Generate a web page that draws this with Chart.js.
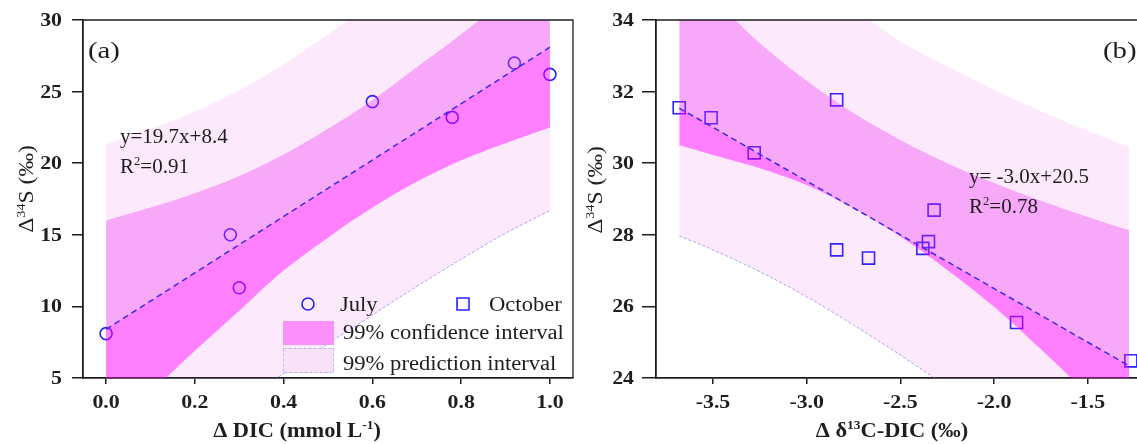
<!DOCTYPE html>
<html>
<head>
<meta charset="utf-8">
<title>Δ34S regressions</title>
<script src="https://cdn.jsdelivr.net/npm/chart.js@4.4.1/dist/chart.umd.min.js"></script>
<style>
  html, body { margin: 0; padding: 0; background: #fff; }
  body { width: 1137px; height: 444px; overflow: hidden; position: relative; }
  canvas { position: absolute; top: 0; }
  #chartA { left: 0; }
  #chartB { left: 580px; }
</style>
</head>
<body>
<canvas id="chartA" width="580" height="444"></canvas>
<canvas id="chartB" width="570" height="444"></canvas>
<script>
// (a) July samples: ΔDIC against Δ34S
var julyDIC = [0.00, 0.28, 0.30, 0.60, 0.78, 0.92, 1.00];
var julyS34 = [8.1, 15.0, 11.3, 24.3, 23.2, 27.0, 26.2];
var fitSlopeA = 19.7, fitInterceptA = 8.4, fitR2A = 0.91;
var fitRangeA = [0.0, 1.0];

// (a) 99% confidence / prediction bands
var bandDIC    = [0.0, 0.1, 0.2, 0.3, 0.4, 0.5, 0.6, 0.7, 0.8, 0.9, 1.0];
var predUpperA = [21.3, 22.4, 23.6, 25.1, 26.9, 29.0, 31.2, 33.3, 35.3, 37.3, 39.3];
var confUpperA = [16.0, 16.9, 17.9, 19.1, 20.6, 22.4, 24.4, 26.7, 29.0, 31.5, 34.2];
var confLowerA = [1.2, 4.0, 6.9, 9.7, 12.5, 14.8, 16.9, 18.7, 20.2, 21.4, 22.5];
var predLowerA = [-2.0, -0.2, 1.5, 3.4, 5.3, 7.4, 9.4, 11.4, 13.3, 15.1, 16.7];

// (b) October samples: Δδ13C-DIC against Δ34S
var octD13C = [-3.68, -3.51, -3.28, -2.84, -2.84, -2.67, -2.38, -2.35, -2.32, -1.88, -1.27];
var octS34  = [31.55, 31.27, 30.29, 31.77, 27.58, 27.35, 27.62, 27.81, 28.69, 25.55, 24.48];
var fitSlopeB = -3.0, fitInterceptB = 20.5, fitR2B = 0.78;
var fitRangeB = [-3.68, -1.28];

// (b) 99% confidence / prediction bands
var bandD13C   = [-3.68, -3.5, -3.25, -3.0, -2.75, -2.5, -2.25, -2.0, -1.75, -1.5, -1.28];
var predUpperB = [37.45, 36.85, 36.0, 35.15, 34.3, 33.4, 32.7, 32.05, 31.45, 30.9, 30.45];
var confUpperB = [35.4, 34.6, 33.35, 32.3, 31.4, 30.65, 30.0, 29.45, 28.95, 28.5, 28.13];
var confLowerB = [30.5, 30.23, 29.86, 29.39, 28.74, 27.95, 27.02, 25.99, 24.8, 23.55, 22.4];
var predLowerB = [27.97, 27.58, 26.97, 26.27, 25.48, 24.64, 23.75, 22.8, 21.8, 20.8, 19.9];

// axis ticks
var xTicksA = [0.0, 0.2, 0.4, 0.6, 0.8, 1.0];
var yTicksA = [5, 10, 15, 20, 25, 30];
var xTicksB = [-3.5, -3.0, -2.5, -2.0, -1.5];
var yTicksB = [24, 26, 28, 30, 32, 34];

var SERIF = '"Liberation Serif", "Times New Roman", serif';
var INK = '#1e1e1e';
var MARKER = '#2323ff';
var FIT_BLUE = '#3a2de6';
var PRED_FILL = 'rgba(225, 40, 225, 0.10)';
var CONF_LIGHT = 'rgba(236, 30, 236, 0.39)';
var CONF_DARK = 'rgba(255, 0, 255, 0.50)';

function pairs(xs, ys) {
  return xs.map(function (x, i) { return {x: x, y: ys[i]}; });
}

function fitPoints(range, slope, intercept) {
  return range.map(function (x) { return {x: x, y: slope * x + intercept}; });
}

// text with ^{...} superscripts, optionally stretched along the baseline
function drawRich(ctx, text, x, y, o) {
  var pieces = text.split(/\^\{([^}]*)\}/);
  var size = o.size, small = Math.round(o.size * 0.62);
  var weight = o.bold ? 'bold ' : '';
  var widths = [], total = 0;
  pieces.forEach(function (p, i) {
    ctx.font = weight + (i % 2 ? small : size) + 'px ' + SERIF;
    widths[i] = ctx.measureText(p).width;
    total += widths[i];
  });
  var cx = o.align === 'center' ? -total / 2 : (o.align === 'right' ? -total : 0);
  ctx.save();
  ctx.translate(x, y);
  if (o.rotate) ctx.rotate(-Math.PI / 2);
  ctx.scale(o.stretch || 1, 1);
  ctx.textBaseline = 'alphabetic';
  ctx.textAlign = 'left';
  ctx.fillStyle = o.color || INK;
  pieces.forEach(function (p, i) {
    ctx.font = weight + (i % 2 ? small : size) + 'px ' + SERIF;
    ctx.fillText(p, cx, i % 2 ? -size * 0.4 : 0);
    cx += widths[i];
  });
  ctx.restore();
}

function drawMarker(ctx, style, x, y, r) {
  ctx.save();
  ctx.strokeStyle = MARKER;
  ctx.lineWidth = 1.6;
  ctx.beginPath();
  if (style === 'circle') ctx.arc(x, y, r, 0, Math.PI * 2);
  else ctx.rect(x - r, y - r, 2 * r, 2 * r);
  ctx.stroke();
  ctx.restore();
}

// frame, tick labels, titles, notes and legend
function decor(cfg) {
  return {
    id: 'decor',
    afterDraw: function (chart) {
      var ctx = chart.ctx, area = chart.chartArea;
      var xs = chart.scales.x, ys = chart.scales.y;
      ctx.save();
      ctx.strokeStyle = INK;
      ctx.lineWidth = 1.3;
      ctx.beginPath();
      ctx.moveTo(area.left, area.top);
      ctx.lineTo(area.right, area.top);
      ctx.lineTo(area.right, area.bottom);
      ctx.stroke();
      ctx.restore();

      xs.ticks.forEach(function (t) {
        drawRich(ctx, t.value.toFixed(1), xs.getPixelForValue(t.value), 408,
          {size: 19, bold: true, align: 'center', stretch: 1.15});
      });
      ys.ticks.forEach(function (t) {
        drawRich(ctx, String(t.value), cfg.yLabelRight, ys.getPixelForValue(t.value) + 6,
          {size: 19, bold: true, align: 'right', stretch: 1.15});
      });

      drawRich(ctx, cfg.xTitle, cfg.xTitleAt[0], cfg.xTitleAt[1],
        {size: 20, bold: true, align: 'center', stretch: 1.12});
      drawRich(ctx, 'Δ^{34}S (‰)', cfg.yTitleAt[0], cfg.yTitleAt[1],
        {size: 20, align: 'center', stretch: 1.18, rotate: true});

      cfg.notes.forEach(function (n) {
        drawRich(ctx, n.text, n.x, n.y, {size: n.size, stretch: n.stretch});
      });

      (cfg.legend || []).forEach(function (item) {
        if (item.marker) {
          drawMarker(ctx, item.marker, item.at[0], item.at[1], 6);
        } else {
          ctx.save();
          ctx.fillStyle = item.swatch;
          ctx.fillRect(item.box[0], item.box[1], item.box[2], item.box[3]);
          if (item.dashed) {
            ctx.strokeStyle = 'rgba(150, 140, 255, 0.55)';
            ctx.lineWidth = 1;
            ctx.setLineDash([3, 2]);
            ctx.strokeRect(item.box[0] + 0.5, item.box[1] + 0.5, item.box[2] - 1, item.box[3] - 1);
          }
          ctx.restore();
        }
        drawRich(ctx, item.label, item.text[0], item.text[1], {size: 20, stretch: 1.13});
      });
    }
  };
}

var bandStyle = {borderWidth: 0, borderColor: 'rgba(0,0,0,0)', pointRadius: 0,
                 cubicInterpolationMode: 'monotone', order: 2};

function bandSet(label, data, fill, color) {
  return Object.assign({label: label, data: data, fill: fill, backgroundColor: color}, bandStyle);
}

function buildDatasets(bx, predUp, confUp, fit, confLow, predLow, points, marker) {
  return [
    bandSet('99% prediction (upper)', pairs(bx, predUp), '+1', PRED_FILL),
    bandSet('99% confidence (upper)', pairs(bx, confUp), '+1', CONF_LIGHT),
    {label: 'fit', data: fit, fill: '+1', backgroundColor: CONF_DARK, borderColor: FIT_BLUE,
     borderWidth: 1.5, borderDash: [6, 4], pointRadius: 0, order: 0},
    bandSet('99% confidence (lower)', pairs(bx, confLow), '+1', PRED_FILL),
    Object.assign({}, bandStyle, {label: '99% prediction (lower)', data: pairs(bx, predLow), fill: false,
     borderWidth: 1, borderColor: 'rgba(120, 120, 255, 0.65)', borderDash: [3, 2]}),
    {label: marker.label, data: points, showLine: false, pointStyle: marker.style, pointRadius: marker.r,
     pointBorderWidth: 1.6, pointBorderColor: MARKER, pointBackgroundColor: 'rgba(0,0,0,0)', order: 5}
  ];
}

function useTicks(list) {
  return function (scale) { scale.ticks = list.map(function (v) { return {value: v}; }); };
}

function buildOptions(xr, yr, xTicks, yTicks, yWidth, yTick, rightPad) {
  return {
    responsive: false,
    animation: false,
    devicePixelRatio: 1,
    events: [],
    layout: {autoPadding: false, padding: {top: 20, right: rightPad, bottom: 0, left: 0}},
    plugins: {
      legend: {display: false},
      tooltip: {enabled: false},
      filler: {drawTime: 'beforeDatasetDraw', propagate: false}
    },
    scales: {
      x: {
        type: 'linear', min: xr[0], max: xr[1],
        afterBuildTicks: useTicks(xTicks),
        afterFit: function (s) { s.height = 66; },
        ticks: {display: false},
        grid: {display: true, drawOnChartArea: false, drawTicks: true, tickLength: 6, color: INK, lineWidth: 1.5},
        border: {display: true, color: INK, width: 1.8}
      },
      y: {
        type: 'linear', min: yr[0], max: yr[1],
        afterBuildTicks: useTicks(yTicks),
        afterFit: function (s) { s.width = yWidth; },
        ticks: {display: false},
        grid: {display: true, drawOnChartArea: false, drawTicks: true, tickLength: yTick, color: INK, lineWidth: 1.5},
        border: {display: true, color: INK, width: 1.8}
      }
    }
  };
}

new Chart(document.getElementById('chartA'), {
  type: 'line',
  data: {
    datasets: buildDatasets(bandDIC, predUpperA, confUpperA,
      fitPoints(fitRangeA, fitSlopeA, fitInterceptA), confLowerA, predLowerA,
      pairs(julyDIC, julyS34), {label: 'July', style: 'circle', r: 6})
  },
  options: buildOptions([-0.052, 1.052], [yTicksA[0], yTicksA[yTicksA.length - 1]], xTicksA, yTicksA, 83, 11, 7),
  plugins: [decor({
    yLabelRight: 62,
    xTitle: 'Δ DIC (mmol L^{-1})', xTitleAt: [297, 437],
    yTitleAt: [33, 189],
    notes: [
      {text: '(a)', x: 88, y: 58, size: 24, stretch: 1.2},
      {text: 'y=' + fitSlopeA.toFixed(1) + 'x+' + fitInterceptA.toFixed(1), x: 120, y: 143, size: 20, stretch: 1.05},
      {text: 'R^{2}=' + fitR2A.toFixed(2), x: 120, y: 173, size: 20, stretch: 1.05}
    ],
    legend: [
      {marker: 'circle', at: [308, 304], label: 'July', text: [340, 311]},
      {marker: 'rect', at: [463, 304], label: 'October', text: [489, 311]},
      {swatch: '#fb90fb', box: [283, 321, 51, 24], label: '99% confidence interval', text: [343, 339]},
      {swatch: '#f8e2f8', dashed: true, box: [283, 348, 51, 25], label: '99% prediction interval', text: [343, 370]}
    ]
  })]
});

new Chart(document.getElementById('chartB'), {
  type: 'line',
  data: {
    datasets: buildDatasets(bandD13C, predUpperB, confUpperB,
      fitPoints(fitRangeB, fitSlopeB, fitInterceptB), confLowerB, predLowerB,
      pairs(octD13C, octS34), {label: 'October', style: 'rect', r: 8.5})
  },
  options: buildOptions([-3.804, -1.2], [yTicksB[0], yTicksB[yTicksB.length - 1]], xTicksB, yTicksB, 76, 14, 6),
  plugins: [decor({
    yLabelRight: 54,
    xTitle: 'Δ δ^{13}C-DIC (‰)', xTitleAt: [312, 437],
    yTitleAt: [22, 190],
    notes: [
      {text: '(b)', x: 523, y: 58, size: 24, stretch: 1.2},
      {text: 'y= ' + fitSlopeB.toFixed(1) + 'x+' + fitInterceptB.toFixed(1), x: 389, y: 183, size: 20, stretch: 1.05},
      {text: 'R^{2}=' + fitR2B.toFixed(2), x: 389, y: 213, size: 20, stretch: 1.05}
    ]
  })]
});
</script>
</body>
</html>
